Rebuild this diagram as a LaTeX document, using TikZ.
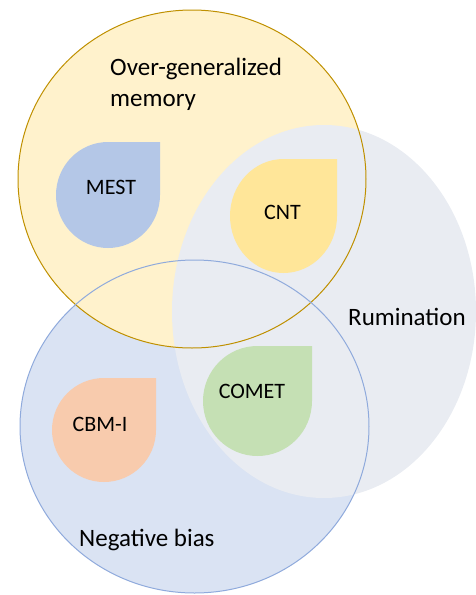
\documentclass[tikz,border=0pt]{standalone}
\usepackage{fontspec}
\setmainfont{Carlito}
\usepackage{tikz}
\usetikzlibrary{positioning}
\definecolor{ogmfill}{RGB}{255,242,204}
\definecolor{ogmline}{RGB}{191,144,0}
\definecolor{negfill}{RGB}{218,227,243}
\definecolor{negline}{RGB}{143,170,220}
\definecolor{rumfill}{RGB}{233,236,242}
\definecolor{mestblue}{RGB}{180,199,231}
\definecolor{cntyellow}{RGB}{255,230,153}
\definecolor{cometgreen}{RGB}{197,224,180}
\definecolor{cbmorange}{RGB}{248,203,173}
\tikzstyle{setlabel} = [font=\fontsize{25}{31}\selectfont, anchor=base west, inner sep=0pt, align=left]
\tikzstyle{droplabel} = [font=\fontsize{22}{26}\selectfont, anchor=base, inner sep=0pt]
\tikzstyle{setline} = [line width=1pt]

\begin{document}
\begin{tikzpicture}[x=1pt, y=-1pt]
\useasboundingbox (0,0) rectangle (475,595);

% Set fills
\fill[negfill] (194.5,426.5) ellipse[x radius=174.5, y radius=166.5];
\fill[ogmfill] (192,179) ellipse[x radius=174, y radius=169];
\fill[rumfill] (324,311.5) ellipse[x radius=152, y radius=186.5];

% Set outlines
\draw[setline, draw=ogmline] (192,179) ellipse[x radius=174, y radius=169];
\draw[setline, draw=negline] (194.5,426.5) ellipse[x radius=174.5, y radius=166.5];

% Drops
\fill[mestblue] (108,195) ellipse[x radius=52, y radius=53] (108,195) rectangle (160,142);
\fill[cntyellow] (283.5,216) ellipse[x radius=53.5, y radius=57] (283.5,216) rectangle (337,159);
\fill[cometgreen] (257.5,401) ellipse[x radius=54.5, y radius=55] (257.5,401) rectangle (312,346);
\fill[cbmorange] (104,430) ellipse[x radius=52, y radius=52] (104,430) rectangle (156,378);

% Set labels
\node (ogm) [setlabel] at (110,106) {Over-generalized\\memory};
\node (rum) [setlabel] at (348,325) {Rumination};
\node (neg) [setlabel] at (79,546) {Negative bias};

% Drop labels
\node (mest) [droplabel] at (111,194) {MEST};
\node (cnt) [droplabel] at (282.5,219) {CNT};
\node (comet) [droplabel] at (252,398) {COMET};
\node (cbm) [droplabel] at (100,431) {CBM-I};
\end{tikzpicture}
\end{document}
